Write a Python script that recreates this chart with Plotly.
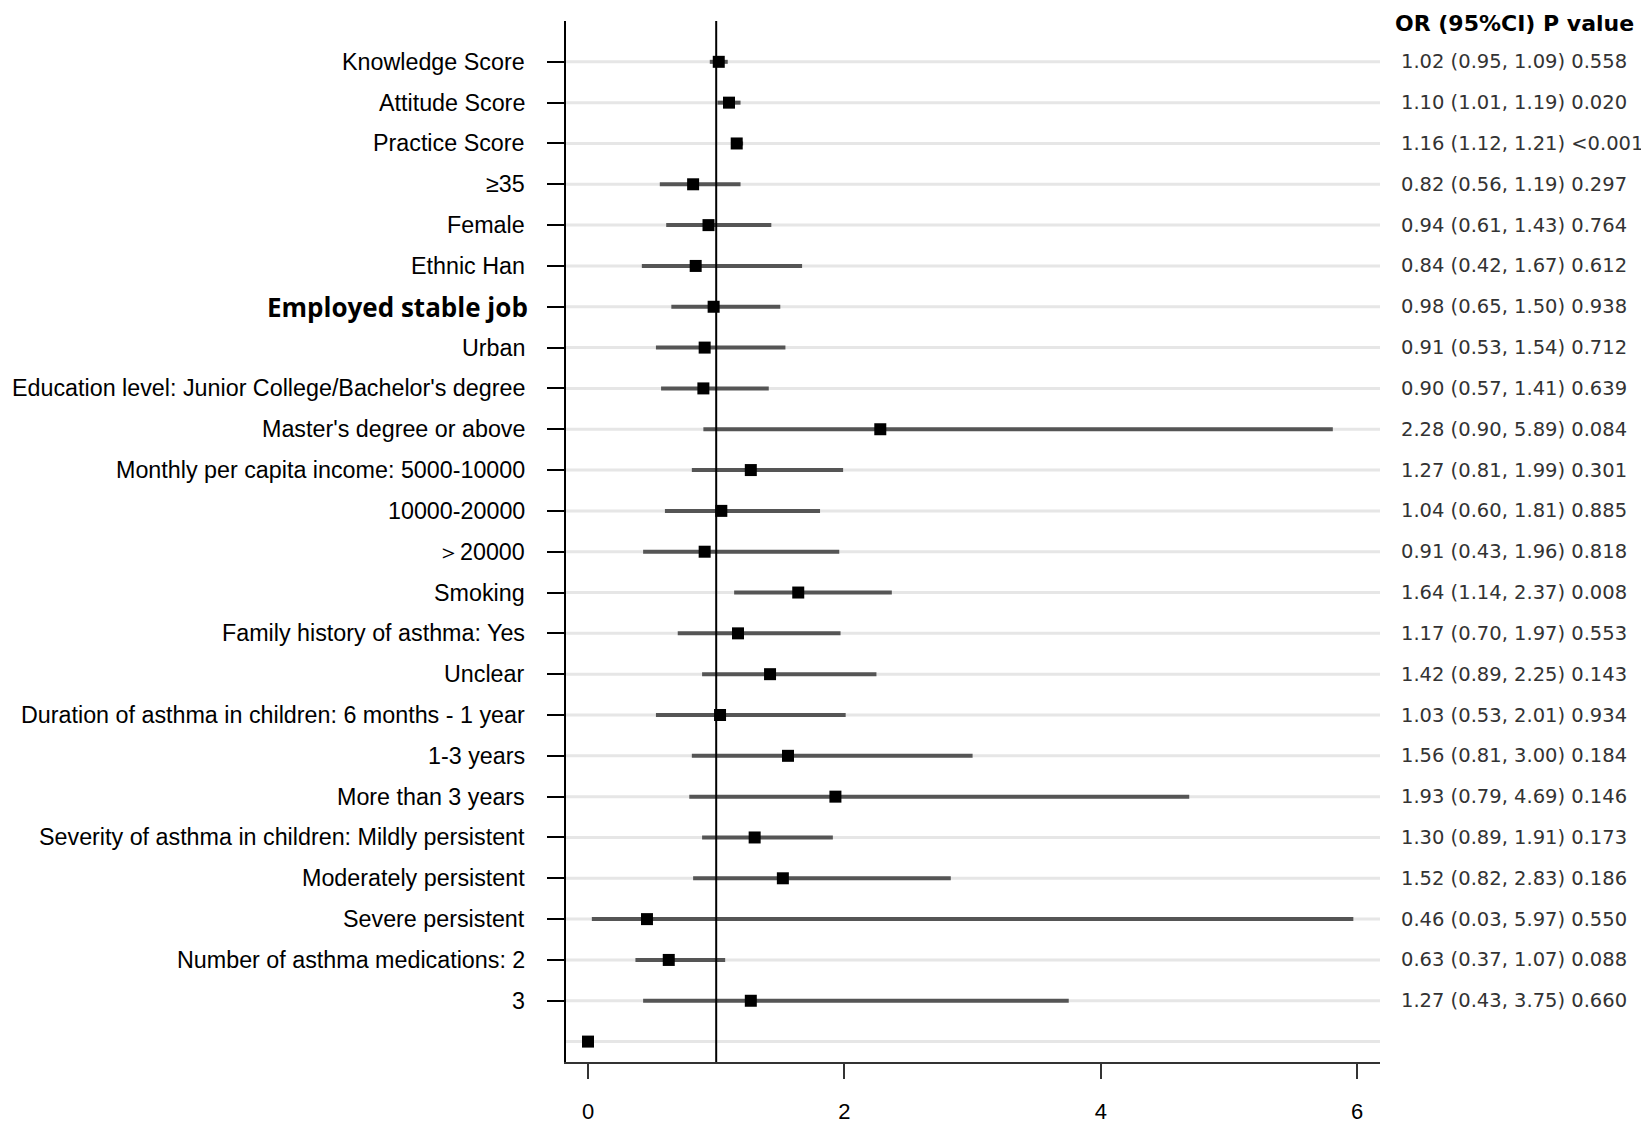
import plotly.graph_objects as go

# forest plot of odds ratios (rows top to bottom)
labels = [
    "Knowledge Score", "Attitude Score", "Practice Score", "≥35", "Female",
    "Ethnic Han", "Employed stable job", "Urban",
    "Education level: Junior College/Bachelor's degree",
    "Master's degree or above", "Monthly per capita income: 5000-10000",
    "10000-20000", "＞20000", "Smoking", "Family history of asthma: Yes",
    "Unclear", "Duration of asthma in children: 6 months - 1 year",
    "1-3 years", "More than 3 years",
    "Severity of asthma in children: Mildly persistent",
    "Moderately persistent", "Severe persistent",
    "Number of asthma medications: 2", "3", "",
]
odds = [1.02, 1.10, 1.16, 0.82, 0.94, 0.84, 0.98, 0.91, 0.90, 2.28, 1.27, 1.04,
        0.91, 1.64, 1.17, 1.42, 1.03, 1.56, 1.93, 1.30, 1.52, 0.46, 0.63, 1.27, 0]
ci_low = [0.95, 1.01, 1.12, 0.56, 0.61, 0.42, 0.65, 0.53, 0.57, 0.90, 0.81, 0.60,
          0.43, 1.14, 0.70, 0.89, 0.53, 0.81, 0.79, 0.89, 0.82, 0.03, 0.37, 0.43, None]
ci_high = [1.09, 1.19, 1.21, 1.19, 1.43, 1.67, 1.50, 1.54, 1.41, 5.81, 1.99, 1.81,
           1.96, 2.37, 1.97, 2.25, 2.01, 3.00, 4.69, 1.91, 2.83, 5.97, 1.07, 3.75, None]
or_text = [
    "1.02 (0.95, 1.09) 0.558", "1.10 (1.01, 1.19) 0.020", "1.16 (1.12, 1.21) <0.001",
    "0.82 (0.56, 1.19) 0.297", "0.94 (0.61, 1.43) 0.764", "0.84 (0.42, 1.67) 0.612",
    "0.98 (0.65, 1.50) 0.938", "0.91 (0.53, 1.54) 0.712", "0.90 (0.57, 1.41) 0.639",
    "2.28 (0.90, 5.89) 0.084", "1.27 (0.81, 1.99) 0.301", "1.04 (0.60, 1.81) 0.885",
    "0.91 (0.43, 1.96) 0.818", "1.64 (1.14, 2.37) 0.008", "1.17 (0.70, 1.97) 0.553",
    "1.42 (0.89, 2.25) 0.143", "1.03 (0.53, 2.01) 0.934", "1.56 (0.81, 3.00) 0.184",
    "1.93 (0.79, 4.69) 0.146", "1.30 (0.89, 1.91) 0.173", "1.52 (0.82, 2.83) 0.186",
    "0.46 (0.03, 5.97) 0.550", "0.63 (0.37, 1.07) 0.088", "1.27 (0.43, 3.75) 0.660",
]
bold_rows = ["Employed stable job"]
x_ticks = [0, 2, 4, 6]

rows = list(range(len(labels)))

fig = go.Figure()

# CI segments
ci_x, ci_y = [], []
for r, lo, hi in zip(rows, ci_low, ci_high):
    if lo is None:
        continue
    ci_x += [lo, hi, None]
    ci_y += [r, r, None]
fig.add_trace(go.Scatter(x=ci_x, y=ci_y, mode="lines",
                         line=dict(color="#555555", width=4), hoverinfo="skip"))
fig.add_trace(go.Scatter(x=odds, y=rows, mode="markers",
                         marker=dict(symbol="square", size=12, color="black")))

# row gridlines
for r in rows:
    fig.add_shape(type="line", xref="paper", x0=0, x1=1, y0=r, y1=r,
                  line=dict(color="#e6e6e6", width=3), layer="below")

# reference line at OR = 1
fig.add_shape(type="line", x0=1, x1=1, yref="paper", y0=0, y1=1,
              line=dict(color="black", width=2))

# left labels
for r, lab in zip(rows, labels):
    if not lab:
        continue
    if lab in bold_rows:
        font = dict(family="Open Sans", size=26, color="black")
        txt = "<b>" + lab + "</b>"
        shift = -36
    else:
        font = dict(family="Liberation Sans", size=23.3, color="black")
        txt = lab
        shift = -39
    fig.add_annotation(x=0, xref="paper", y=r, text=txt, showarrow=False,
                       xanchor="right", yanchor="middle", xshift=shift, font=font)

# right column
fig.add_annotation(x=1, xref="paper", y=1, yref="paper",
                   text="<b>OR (95%CI) P value</b>",
                   showarrow=False, xanchor="left", yanchor="middle",
                   xshift=14, yshift=-2, borderpad=0,
                   font=dict(family="DejaVu Sans", size=22, color="black"))
for r, t in zip(rows, or_text):
    fig.add_annotation(x=1, xref="paper", y=r, text=t, showarrow=False,
                       xanchor="left", yanchor="middle", xshift=19,
                       font=dict(family="DejaVu Sans", size=19.5, color="#333333"))

# page body adds an 8px offset, so margins are shifted back by 8
fig.update_layout(
    width=1649, height=1126,
    margin=dict(l=558, r=277, t=13, b=72),
    plot_bgcolor="white", paper_bgcolor="white",
    showlegend=False,
)
fig.update_xaxes(range=[-0.1716, 6.178], tickvals=x_ticks, ticks="outside",
                 ticklen=15, tickwidth=2, tickcolor="#333333",
                 showline=True, linecolor="#333333", linewidth=2,
                 showgrid=False, zeroline=False, ticklabelstandoff=14,
                 automargin=False,
                 tickfont=dict(family="Liberation Sans", size=22, color="black"))
fig.update_yaxes(range=[24.5, -1], tickvals=rows[:-1], ticks="outside",
                 ticklen=17, tickwidth=2, tickcolor="black",
                 showticklabels=False, showline=True, linecolor="black",
                 linewidth=2, showgrid=False, zeroline=False, automargin=False)

fig.write_html("out.html")
